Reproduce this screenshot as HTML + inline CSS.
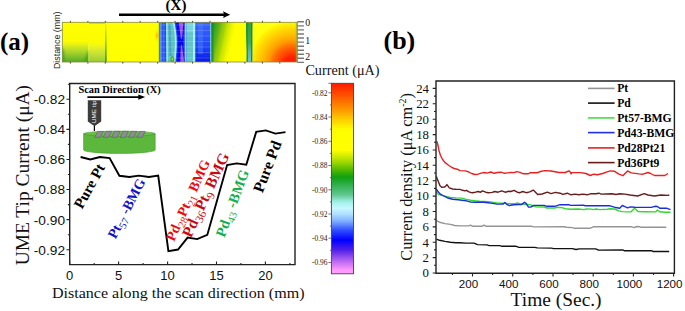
<!DOCTYPE html>
<html><head><meta charset="utf-8"><style>
html,body{margin:0;padding:0;background:#fff;width:685px;height:311px;overflow:hidden}
svg{display:block}
</style></head><body>
<svg xmlns="http://www.w3.org/2000/svg" width="685" height="311" viewBox="0 0 685 311">
<rect width="685" height="311" fill="#fff"/>
<defs>
<linearGradient id="gbot" x1="0" y1="0" x2="0" y2="1">
 <stop offset="0" stop-color="#ffff00"/><stop offset="0.48" stop-color="#fcfc00"/><stop offset="0.56" stop-color="#e4f014"/>
 <stop offset="0.7" stop-color="#b8dc28"/><stop offset="0.85" stop-color="#88c42c"/><stop offset="1" stop-color="#58ac20"/></linearGradient>
<linearGradient id="gbot2" x1="0" y1="0" x2="0" y2="1">
 <stop offset="0" stop-color="#ffff00"/><stop offset="0.52" stop-color="#fcfc00"/><stop offset="0.62" stop-color="#e8f420"/>
 <stop offset="0.8" stop-color="#c4e038"/><stop offset="1" stop-color="#98cc30"/></linearGradient>
<filter id="blur1" x="-50%" y="-50%" width="200%" height="200%"><feGaussianBlur stdDeviation="1.3"/></filter>
<filter id="blur2" x="-50%" y="-50%" width="200%" height="200%"><feGaussianBlur stdDeviation="0.6"/></filter>
<clipPath id="stripclip"><rect x="62.3" y="22.3" width="235" height="39.7"/></clipPath>
<linearGradient id="gline" x1="0" y1="0" x2="0" y2="1">
 <stop offset="0" stop-color="#48ac30" stop-opacity="0.15"/><stop offset="0.4" stop-color="#48ac30" stop-opacity="0.6"/><stop offset="1" stop-color="#3a9c28" stop-opacity="0.95"/></linearGradient>
<linearGradient id="gedgeL" x1="0" y1="0" x2="1" y2="0">
 <stop offset="0" stop-color="#2a9418" stop-opacity="0.8"/><stop offset="1" stop-color="#2a9418" stop-opacity="0"/></linearGradient>
<linearGradient id="gedgeR" x1="0" y1="0" x2="1" y2="0">
 <stop offset="0" stop-color="#3a9c20" stop-opacity="0"/><stop offset="1" stop-color="#3a9c20" stop-opacity="0.7"/></linearGradient>
<linearGradient id="gfadeV" x1="0" y1="0" x2="0" y2="1">
 <stop offset="0" stop-color="#fff" stop-opacity="0"/><stop offset="1" stop-color="#fff" stop-opacity="1"/></linearGradient>
<linearGradient id="ggy" gradientUnits="userSpaceOnUse" x1="211.5" y1="22" x2="240" y2="28.4">
 <stop offset="0" stop-color="#108c20"/><stop offset="0.13" stop-color="#30a020"/><stop offset="0.3" stop-color="#60b418"/>
 <stop offset="0.4" stop-color="#90c810"/><stop offset="0.47" stop-color="#a0d000"/><stop offset="0.57" stop-color="#c8e400"/>
 <stop offset="0.64" stop-color="#d8ec00"/><stop offset="0.74" stop-color="#f0f800"/><stop offset="0.85" stop-color="#ffff00"/><stop offset="1" stop-color="#ffff00"/></linearGradient>
<linearGradient id="gedge" x1="0" y1="0" x2="1" y2="0">
 <stop offset="0" stop-color="#108c20"/><stop offset="1" stop-color="#108c20" stop-opacity="0"/></linearGradient>
<linearGradient id="ggyv" x1="0" y1="0" x2="0" y2="1">
 <stop offset="0" stop-color="#109020" stop-opacity="0.55"/><stop offset="0.45" stop-color="#109020" stop-opacity="0.1"/><stop offset="1" stop-color="#109020" stop-opacity="0"/></linearGradient>
<radialGradient id="gred" gradientUnits="userSpaceOnUse" cx="292" cy="65" r="44" fx="292" fy="65">
 <stop offset="0" stop-color="#ff1800"/><stop offset="0.18" stop-color="#ff2000"/><stop offset="0.28" stop-color="#ff4000"/>
 <stop offset="0.45" stop-color="#ff7400"/><stop offset="0.52" stop-color="#ff9400"/><stop offset="0.63" stop-color="#ffb000"/>
 <stop offset="0.72" stop-color="#ffc400"/><stop offset="0.82" stop-color="#ffd800"/><stop offset="0.92" stop-color="#ffee00"/><stop offset="1" stop-color="#ffff10"/></radialGradient>
<radialGradient id="gor" cx="0.5" cy="0.5" r="0.5">
 <stop offset="0" stop-color="#ffa020"/><stop offset="1" stop-color="#ffff00" stop-opacity="0"/></radialGradient>
<radialGradient id="ggrn" cx="0.5" cy="0.6" r="0.5">
 <stop offset="0" stop-color="#c8e830"/><stop offset="0.5" stop-color="#40a020"/><stop offset="1" stop-color="#40a060" stop-opacity="0"/></radialGradient>
<linearGradient id="gblue2" x1="0" y1="0" x2="0" y2="1">
 <stop offset="0" stop-color="#3a64ff"/><stop offset="0.6" stop-color="#2048f8"/><stop offset="1" stop-color="#0a18e8"/></linearGradient>
<linearGradient id="gband" x1="0" y1="0" x2="0" y2="1">
 <stop offset="0" stop-color="#30a040"/><stop offset="0.5" stop-color="#40a860"/><stop offset="0.75" stop-color="#60b8b0"/><stop offset="1" stop-color="#70c0d8"/></linearGradient>
</defs>
<rect x="62.3" y="22.3" width="235.0" height="39.7" fill="#ffff00"/>
<rect x="62.3" y="22.3" width="26.200000000000003" height="39.7" fill="url(#gbot)"/>
<rect x="88.5" y="22.3" width="17.0" height="39.7" fill="url(#gbot2)"/>
<g clip-path="url(#stripclip)"><path d="M60.3,64.0 L60.3,46 L63.8,50 L64.8,64.0 Z" fill="#3a9a20" opacity="0.75" filter="url(#blur1)"/>
<path d="M88.5,64.0 L88.5,50 L86.5,54 L83.5,64.0 Z" fill="#3a9c20" opacity="0.7" filter="url(#blur1)"/></g>
<rect x="88.5" y="44.3" width="1" height="17.700000000000003" fill="#f4fa80" opacity="0.6"/>
<polygon points="105.3,22.3 106.3,22.3 106.8,62.0 105,62.0" fill="url(#gline)" filter="url(#blur2)"/>
<rect x="89" y="22.3" width="16" height="1.2" fill="#7090ff" opacity="0.8"/>
<ellipse cx="157" cy="35.5" rx="3" ry="8" fill="url(#gor)"/>
<rect x="158.8" y="22.3" width="1.6" height="39.7" fill="#40a030"/>
<rect x="160.3" y="22.3" width="51.19999999999999" height="39.7" fill="#2246f2"/>
<rect x="160.3" y="22.3" width="1.3" height="39.7" fill="#60a0ff"/>
<rect x="162.5" y="22.3" width="2.2" height="39.7" fill="#4a7cff" opacity="0.6"/>
<path d="M166,22.3 L173.5,22.3 C176.5,36 176.5,46 174.5,62.0 L166.5,62.0 Z" fill="#5cc4bc"/>
<path d="M166,22.3 L167.6,22.3 L168,62.0 L166.4,62.0 Z" fill="#8ce2f2"/>
<path d="M172.6,22.3 L174.4,22.3 C177.4,36 177.4,46 175.4,62.0 L173.6,62.0 C175.6,46 175.6,36 172.6,22.3 Z" fill="#a0ecff"/>
<path d="M168.5,24.3 L170.5,24.3 L171.5,56.0 L169.5,56.0 Z" fill="#3a70e8" opacity="0.45"/>
<ellipse cx="172.4" cy="58.5" rx="2.6" ry="4" fill="url(#ggrn)"/>
<path d="M175.6,22.3 L184.6,22.3 C183,34 183,46 184.8,62.0 L176.6,62.0 C178.4,46 178.4,34 175.6,22.3 Z" fill="#0a0af0"/>
<path d="M178.8,22.3 L183.4,22.3 C183,30 182.4,35 181.8,39 L181,39 C180.4,35 179.6,30 178.8,22.3 Z" fill="#a452f2"/>
<path d="M181,45 L181.8,45 C182.6,50 183.6,56 184,62.0 L180.4,62.0 C180.6,56 180.6,50 181,45 Z" fill="#a452f2"/>
<rect x="184.8" y="22.3" width="1.7" height="39.7" fill="#80d0ff"/>
<rect x="186.5" y="22.3" width="6.5" height="39.7" fill="#62c6c8"/>
<rect x="186.5" y="22.3" width="6.5" height="10" fill="#80dce8" opacity="0.7"/>
<rect x="193" y="22.3" width="2.5" height="39.7" fill="#a4eef8"/>
<rect x="195.5" y="22.3" width="15" height="39.7" fill="url(#gblue2)"/>
<rect x="198" y="22.3" width="5" height="31.700000000000003" fill="#4a80ff" opacity="0.45"/>
<rect x="210.3" y="22.3" width="1.3" height="39.7" fill="#98dcf4"/>
<path d="M160.3 25H211.5M160.3 30.5H211.5M160.3 36H211.5M160.3 41.5H211.5M160.3 47H211.5M160.3 52.5H211.5M160.3 58H211.5" stroke="#fff" stroke-width="1" opacity="0.16"/>
<rect x="211.5" y="22.3" width="34.80000000000001" height="39.7" fill="url(#ggy)"/>
<rect x="211.5" y="22.3" width="3" height="39.7" fill="url(#gedge)"/>
<path d="M246.3,22.3 L252.7,22.3 C252,35 253,48 252.4,62.0 L246.6,62.0 C247.2,48 245.8,35 246.3,22.3 Z" fill="url(#gband)"/>
<path d="M246.3,22.3 L247.6,22.3 C247,35 248,48 247.8,62.0 L246.6,62.0 C247.2,48 245.8,35 246.3,22.3 Z" fill="#108a2c"/>
<path d="M251.4,22.3 L252.7,22.3 C252,35 253,48 252.4,62.0 L251,62.0 C251.6,48 250.8,35 251.4,22.3 Z" fill="#108a2c"/>
<rect x="252.6" y="22.3" width="44.70000000000002" height="39.7" fill="url(#gred)"/>
<rect x="295.8" y="22.3" width="1.5" height="39.7" fill="#90b040" opacity="0.7"/>
<rect x="62.3" y="22.3" width="235.0" height="39.7" fill="none" stroke="#8a8a40" stroke-width="0.8"/>
<path d="M70.4 20.900000000000002v1.4M70.4 62.0v1.6M87.9 20.900000000000002v1.4M87.9 62.0v1.6M105.3 20.900000000000002v1.4M105.3 62.0v1.6M122.8 20.900000000000002v1.4M122.8 62.0v1.6M140.2 20.900000000000002v1.4M140.2 62.0v1.6M157.7 20.900000000000002v1.4M157.7 62.0v1.6M175.1 20.900000000000002v1.4M175.1 62.0v1.6M192.6 20.900000000000002v1.4M192.6 62.0v1.6M210.0 20.900000000000002v1.4M210.0 62.0v1.6M227.4 20.900000000000002v1.4M227.4 62.0v1.6M244.9 20.900000000000002v1.4M244.9 62.0v1.6M262.4 20.900000000000002v1.4M262.4 62.0v1.6M279.8 20.900000000000002v1.4M279.8 62.0v1.6" stroke="#333" stroke-width="0.9"/>
<path d="M297.3 21.8h6.7M297.3 25.9h6.7M297.3 29.9h6.7M297.3 34.0h6.7M297.3 38.0h6.7M297.3 42.1h6.7M297.3 46.2h6.7M297.3 50.2h6.7M297.3 54.3h6.7M297.3 58.3h6.7M297.3 62.4h6.7" stroke="#7a7a7a" stroke-width="1.4"/>
<text x="305.2" y="25.8" font-family='"Liberation Serif", serif' font-size="9.8" fill="#111">0</text>
<text x="305.2" y="43.7" font-family='"Liberation Serif", serif' font-size="9.8" fill="#111">1</text>
<text x="305.2" y="59.5" font-family='"Liberation Serif", serif' font-size="9.8" fill="#111">2</text>
<text transform="translate(59.5,40.3) rotate(-90) scale(1.02,1)" text-anchor="middle" font-family='"Liberation Sans", sans-serif' font-size="8.7" fill="#222">Distance (mm)</text>
<path d="M119 14.65H225" stroke="#000" stroke-width="2.5"/>
<polygon points="223,11.3 230.2,14.65 223,18 224.2,14.65" fill="#000"/>
<text x="176" y="10" text-anchor="middle" font-family='"Liberation Serif", serif' font-weight="bold" font-size="15">(X)</text>
<defs><linearGradient id="cbar" x1="0" y1="0" x2="0" y2="1"><stop offset="0.000" stop-color="#ff1a00"/><stop offset="0.061" stop-color="#ff5000"/><stop offset="0.130" stop-color="#ff9000"/><stop offset="0.193" stop-color="#ffd000"/><stop offset="0.245" stop-color="#ffff00"/><stop offset="0.350" stop-color="#ffff00"/><stop offset="0.403" stop-color="#b0e000"/><stop offset="0.455" stop-color="#50b800"/><stop offset="0.492" stop-color="#10a010"/><stop offset="0.534" stop-color="#30b050"/><stop offset="0.586" stop-color="#60c890"/><stop offset="0.623" stop-color="#a0f0e8"/><stop offset="0.655" stop-color="#c8f8ff"/><stop offset="0.686" stop-color="#b0e0ff"/><stop offset="0.723" stop-color="#80b0ff"/><stop offset="0.770" stop-color="#3050ff"/><stop offset="0.823" stop-color="#0000ff"/><stop offset="0.875" stop-color="#5020e8"/><stop offset="0.928" stop-color="#b060f0"/><stop offset="0.980" stop-color="#ff99ff"/><stop offset="1.000" stop-color="#ffa0ff"/></linearGradient></defs>
<rect x="331.4" y="83.3" width="22.100000000000023" height="190.5" fill="url(#cbar)" stroke="#444" stroke-width="0.9"/>
<text transform="translate(327.4,95.6) scale(0.86,1)" text-anchor="end" font-family='"Liberation Serif", serif' font-size="8.6" fill="#222">-0.82</text>
<text transform="translate(327.4,119.8) scale(0.86,1)" text-anchor="end" font-family='"Liberation Serif", serif' font-size="8.6" fill="#222">-0.84</text>
<text transform="translate(327.4,144.1) scale(0.86,1)" text-anchor="end" font-family='"Liberation Serif", serif' font-size="8.6" fill="#222">-0.86</text>
<text transform="translate(327.4,168.3) scale(0.86,1)" text-anchor="end" font-family='"Liberation Serif", serif' font-size="8.6" fill="#222">-0.88</text>
<text transform="translate(327.4,192.6) scale(0.86,1)" text-anchor="end" font-family='"Liberation Serif", serif' font-size="8.6" fill="#222">-0.90</text>
<text transform="translate(327.4,216.8) scale(0.86,1)" text-anchor="end" font-family='"Liberation Serif", serif' font-size="8.6" fill="#222">-0.92</text>
<text transform="translate(327.4,241.0) scale(0.86,1)" text-anchor="end" font-family='"Liberation Serif", serif' font-size="8.6" fill="#222">-0.94</text>
<text transform="translate(327.4,265.3) scale(0.86,1)" text-anchor="end" font-family='"Liberation Serif", serif' font-size="8.6" fill="#222">-0.96</text>
<path d="M328.4 92.8h3M328.4 117.0h3M328.4 141.3h3M328.4 165.5h3M328.4 189.8h3M328.4 214.0h3M328.4 238.2h3M328.4 262.5h3M329.9 104.9h1.5M329.9 129.2h1.5M329.9 153.4h1.5M329.9 177.6h1.5M329.9 201.9h1.5M329.9 226.1h1.5M329.9 250.4h1.5M328.4 83.3h3" stroke="#555" stroke-width="0.8"/>
<text x="305.4" y="75.3" font-family='"Liberation Serif", serif' font-size="14.2" fill="#111">Current (μA)</text>
<text x="78.4" y="92.8" font-family='"Liberation Serif", serif' font-weight="bold" font-size="10.4" fill="#000">Scan Direction (X)</text>
<path d="M87.4 97.1H139.5" stroke="#000" stroke-width="1.7"/>
<polygon points="138.3,94.5 145.2,97.1 138.3,99.7" fill="#000"/>
<path d="M83.6 133.8 V150 A35.8 3.4 0 0 0 155.2 150 V133.8 Z" fill="#5cb83c" stroke="#4a9a2e" stroke-width="0.6"/>
<ellipse cx="119.4" cy="133.8" rx="35.8" ry="2.7" fill="#66bf46" stroke="#4a9a2e" stroke-width="0.6"/>
<polygon points="94.8,137.3 100.3,137.3 103.2,131.4 97.7,131.4" fill="#8c8c94" stroke="#555" stroke-width="0.5"/>
<polygon points="103.2,137.3 108.7,137.3 111.6,131.4 106.1,131.4" fill="#8c8c94" stroke="#555" stroke-width="0.5"/>
<polygon points="111.6,137.3 117.1,137.3 120.0,131.4 114.5,131.4" fill="#8c8c94" stroke="#555" stroke-width="0.5"/>
<polygon points="120.0,137.3 125.5,137.3 128.4,131.4 122.9,131.4" fill="#8c8c94" stroke="#555" stroke-width="0.5"/>
<polygon points="128.4,137.3 133.9,137.3 136.8,131.4 131.3,131.4" fill="#8c8c94" stroke="#555" stroke-width="0.5"/>
<polygon points="136.8,137.3 142.3,137.3 145.2,131.4 139.7,131.4" fill="#8c8c94" stroke="#555" stroke-width="0.5"/>
<path d="M87.8 100.2H101.2V121.5L94.5 126.2L87.8 121.5Z" fill="#3c3c3c"/>
<path d="M94.4 126V131" stroke="#000" stroke-width="1.2"/>
<text transform="translate(95.7,111.8) rotate(-90) scale(1.12,1)" text-anchor="middle" font-family='"Liberation Sans", sans-serif' font-size="5.7" fill="#fff">UME tip</text>
<polyline points="80.6,157 90.3,159.5 99.9,157 109.6,158.1 119.4,175.8 129.3,177 138.9,175.6 149,177 158.2,175.6 168.4,251.1 178,249.5 187.6,237.6 197.2,239.1 207.3,234.9 227.1,165 236.7,163.4 246.3,164.8 256.2,131.9 265.8,130.4 275.4,133.6 285.5,132.1" fill="none" stroke="#000" stroke-width="1.9" stroke-linejoin="miter"/>
<text transform="translate(82,209.8) scale(1,1.0) rotate(-61)" font-family='"Liberation Serif", serif' font-weight="bold" font-size="15" fill="#000">Pure Pt</text>
<text transform="translate(115.5,239.5) scale(1,1.0) rotate(-62.5)" font-family='"Liberation Serif", serif' font-weight="bold" font-size="14" fill="#1212c4">Pt<tspan font-weight="normal" font-size="10.5" dy="3.5">57</tspan><tspan dy="-3.5"> -BMG</tspan></text>
<text transform="translate(174,242) scale(1,1.0) rotate(-65.5)" font-family='"Liberation Serif", serif' font-weight="bold" font-size="14" fill="#f00808">Pd<tspan font-weight="normal" font-size="10.5" dy="3.5">28</tspan><tspan dy="-3.5">Pt</tspan><tspan font-weight="normal" font-size="10.5" dy="3.5">21</tspan><tspan dy="-3.5"> BMG</tspan></text>
<text transform="translate(191,238.5) scale(1,1.0) rotate(-65)" font-family='"Liberation Serif", serif' font-weight="bold" font-size="15.6" fill="#c80814">Pd<tspan font-weight="normal" font-size="11.5" dy="3.5">36</tspan><tspan dy="-3.5">Pt</tspan><tspan font-weight="normal" font-size="11.5" dy="3.5">9</tspan><tspan dy="-3.5"> BMG</tspan></text>
<text transform="translate(224.5,238) scale(1,1.0) rotate(-69.5)" font-family='"Liberation Serif", serif' font-weight="bold" font-size="14.5" fill="#12b04e">Pd<tspan font-weight="normal" font-size="10.5" dy="3.5">43</tspan><tspan dy="-3.5"> -BMG</tspan></text>
<text transform="translate(262.5,193.5) scale(1,1.0) rotate(-69)" font-family='"Liberation Serif", serif' font-weight="bold" font-size="15.6" fill="#000">Pure Pd</text>
<path d="M69.7 83.5H295.0V264.6H69.7Z" fill="none" stroke="#222" stroke-width="1.4"/>
<path d="M69.7 264.6v-3M94.2 264.6v-1.7M118.6 264.6v-3M143.1 264.6v-1.7M167.6 264.6v-3M192.0 264.6v-1.7M216.5 264.6v-3M240.9 264.6v-1.7M265.4 264.6v-3M289.9 264.6v-1.7M69.7 99.3h-3.2M69.7 114.3h-1.8M69.7 129.4h-3.2M69.7 144.4h-1.8M69.7 159.5h-3.2M69.7 174.5h-1.8M69.7 189.5h-3.2M69.7 204.6h-1.8M69.7 219.6h-3.2M69.7 234.7h-1.8M69.7 249.7h-3.2M69.7 84.3h-1.8" stroke="#222" stroke-width="1.1"/>
<text x="69.7" y="280.4" text-anchor="middle" font-family='"Liberation Sans", sans-serif' font-size="13" fill="#111">0</text>
<text x="118.6" y="280.4" text-anchor="middle" font-family='"Liberation Sans", sans-serif' font-size="13" fill="#111">5</text>
<text x="167.6" y="280.4" text-anchor="middle" font-family='"Liberation Sans", sans-serif' font-size="13" fill="#111">10</text>
<text x="216.5" y="280.4" text-anchor="middle" font-family='"Liberation Sans", sans-serif' font-size="13" fill="#111">15</text>
<text x="265.4" y="280.4" text-anchor="middle" font-family='"Liberation Sans", sans-serif' font-size="13" fill="#111">20</text>
<text x="65" y="104.2" text-anchor="end" font-family='"Liberation Sans", sans-serif' font-size="13.7" fill="#111">-0.82</text>
<text x="65" y="134.3" text-anchor="end" font-family='"Liberation Sans", sans-serif' font-size="13.7" fill="#111">-0.84</text>
<text x="65" y="164.4" text-anchor="end" font-family='"Liberation Sans", sans-serif' font-size="13.7" fill="#111">-0.86</text>
<text x="65" y="194.4" text-anchor="end" font-family='"Liberation Sans", sans-serif' font-size="13.7" fill="#111">-0.88</text>
<text x="65" y="224.5" text-anchor="end" font-family='"Liberation Sans", sans-serif' font-size="13.7" fill="#111">-0.90</text>
<text x="65" y="254.6" text-anchor="end" font-family='"Liberation Sans", sans-serif' font-size="13.7" fill="#111">-0.92</text>
<text x="51.9" y="297.9" font-family='"Liberation Serif", serif' font-size="15.6" textLength="252.6" lengthAdjust="spacingAndGlyphs" fill="#111">Distance along the scan direction (mm)</text>
<text transform="translate(28.8,175.1) rotate(-90) scale(1.08,1)" text-anchor="middle" font-family='"Liberation Serif", serif' font-size="18" fill="#111">UME Tip Current (μA)</text>
<text x="0" y="50" font-family='"Liberation Serif", serif' font-weight="bold" font-size="25" fill="#000">(a)</text>
<polyline points="436.4,220.6 439.5,222.2 445,223.6 450.4,224.4 454.8,225.5 460,225.9 468.8,225.9 470.5,225.2 472.3,226.2 482.2,226.2 483.9,225.2 485.7,226.2 531.2,226.2 533.6,226.9 564.2,226.8 566.5,227.3 572.4,227.6 574.7,228.3 589.9,228.3 593.4,226.8 631.9,226.8 634.2,227.6 636.5,226.5 640,226.8 641.2,227.3 666.3,227.3" fill="none" stroke="#949494" stroke-width="1.4" stroke-linejoin="round"/>
<polyline points="436.4,239.2 439.5,240.3 445,241.4 450.4,242.2 455.9,242.7 460,242.8 465.8,243.1 474,243.1 477.5,244.6 486.9,244.9 489.2,245.6 499.7,245.6 502,246.3 516.1,246.3 518.4,247.2 534.7,247.4 537.3,247.9 551.4,248.1 553.7,248.6 572.4,248.6 575.9,249.5 579.4,248.9 595.7,248.9 598.6,250.1 622.5,249.9 624.3,250.7 651.7,250.7 652.9,251.5 669.2,251.5" fill="none" stroke="#111" stroke-width="1.4" stroke-linejoin="round"/>
<polyline points="436.2,191.7 437.8,193.9 440.6,195 445,196.1 450.4,197.4 455.9,197.9 462,198.1 466.4,199.4 470.8,200.3 475.1,200.8 479.5,201.2 488.3,201.6 497,202.9 502.3,203.2 505.8,203.4 511,203.8 515.4,203.8 517.2,202.9 518.9,203.6 520.6,204.9 523.3,204.1 526.8,204.5 531.1,204.9 535.5,206.7 544.3,207 546.9,208 554.8,208 556.5,207.3 561.8,207.6 565.3,208.7 570.6,209.3 578.5,209 583.8,209.6 586.4,209 591.6,209.1 593.4,209.6 596,209 599.5,209.6 607.4,209.3 610,208.7 614.4,209 618.8,210.9 622.3,211.6 627.6,211.9 631.1,211.8 634.6,208.3 638.1,211.6 645.1,211.8 655.7,211.9 657.4,210 660,211.8 664.4,212.2 670.5,212.2" fill="none" stroke="#30d830" stroke-width="1.4" stroke-linejoin="round"/>
<polyline points="436.2,189 437.8,191.2 440,193.9 442.8,195.5 447.1,197.7 452.6,199.2 458.1,199.8 462,200.2 466.4,200.8 470.8,202.1 475.1,202.3 483.9,202.3 488.3,202.7 492.7,203.4 497,204.1 503.2,204.1 504.9,202.5 506.7,204.3 509.3,205.6 511.9,205 514.6,204.7 518.1,204.5 521.5,204.3 524.6,202.3 526.3,203.6 528.5,207.1 530.7,207.1 533.8,205.4 544.3,205.4 546.9,206.3 554.8,206.3 560,204.7 568.8,204.7 570.6,205.4 583.8,205.2 585.1,205.8 610,205.8 614.4,207.2 619.7,208.3 622.3,205.5 624.9,206.7 627.6,207.8 630.3,206.9 634.6,207.2 651.3,207.4 654.8,206.3 657.4,206.5 660,208.3 667,208.3 670.5,209.6" fill="none" stroke="#1a2ee0" stroke-width="1.4" stroke-linejoin="round"/>
<polyline points="436.4,176.4 437.3,179.1 438.9,183 440,185.7 441.7,187.3 444.4,187.1 446,185.7 446.9,184.6 447.7,185.7 449.3,187.9 452.6,189 455.9,189.3 460,189.4 462.6,190.3 465.1,190.9 466.4,190.3 469,191.9 472.2,192.8 475.5,192.2 478,191.5 480.6,192.2 482.5,190.9 485.7,192.2 488.3,192.8 492.2,192.4 494.8,191.5 498,192.2 501.8,190.9 505.1,192.2 508.9,191.2 510.9,191.5 514.1,190.3 517.3,192.2 520,192.7 522.7,191.5 526.2,192.7 529.7,191.9 533.3,190.1 537.7,194.5 542.1,194 547.4,192.2 551,193.6 555.4,192.4 557.6,192.8 560.2,193.2 562.7,194.4 567.2,193.2 571.1,194.8 575,194.1 578.8,194.8 582.7,194.1 587.2,194.8 591,193.7 596.2,193.7 598.8,193.2 601.3,194.1 612,193.7 615.9,194.5 619.7,193.7 624.9,194.1 630,195 637.7,196 644.2,193.7 648,195 654.5,196 660.9,195 668,195.4 669.3,194.8" fill="none" stroke="#6a1c1c" stroke-width="1.4" stroke-linejoin="round"/>
<polyline points="436.8,141.2 437.9,145 438.9,150.2 440.4,155.3 442.4,159.2 444.9,162.4 448.2,165 452,167.5 455.2,168.8 457.2,169.2 460,170.6 465.1,170.9 468.4,171.8 471.6,173.5 474.8,174.5 478,174.2 481.2,173.1 484.5,172.5 487,173.1 490.9,172 494.1,173.3 497.3,172.5 501.2,172.2 504.4,173.3 507.6,172.9 510.9,172.5 514.1,172.6 516.6,171.6 520,172.4 523.5,173.8 528,173.8 530.6,172.7 537.7,172.7 540.4,171.5 544.8,170.6 551,171 555,171.8 558.9,172.5 565.3,172.5 568.9,170.9 570.5,172.2 571.1,173.9 571.7,172.6 580.7,172.6 585.9,173.5 590.4,175.5 593.6,174.2 597.5,174.8 602.6,173.5 607.8,171.6 610.4,170.9 614.6,171.3 618.4,173.9 622.9,175.7 625.5,172.9 627.5,170.9 631.3,172.9 639,173.9 642.9,174.2 648,172.5 650.6,173.5 654.5,175.5 664.8,175.5 668,173.5" fill="none" stroke="#e82020" stroke-width="1.4" stroke-linejoin="round"/>
<path d="M588 88.4H614.6" stroke="#949494" stroke-width="1.6"/>
<text x="617.2" y="92.3" font-family='"Liberation Serif", serif' font-weight="bold" font-size="11.7" fill="#000">Pt</text>
<path d="M588 103.1H614.6" stroke="#111" stroke-width="1.6"/>
<text x="617.2" y="107.0" font-family='"Liberation Serif", serif' font-weight="bold" font-size="11.7" fill="#000">Pd</text>
<path d="M588 117.9H614.6" stroke="#40e040" stroke-width="1.6"/>
<text x="617.2" y="121.8" font-family='"Liberation Serif", serif' font-weight="bold" font-size="11.7" fill="#000">Pt57-BMG</text>
<path d="M588 132.6H614.6" stroke="#2030e0" stroke-width="1.6"/>
<text x="617.2" y="136.5" font-family='"Liberation Serif", serif' font-weight="bold" font-size="11.7" fill="#000">Pd43-BMG</text>
<path d="M588 147.9H614.6" stroke="#e82020" stroke-width="1.6"/>
<text x="617.2" y="151.8" font-family='"Liberation Serif", serif' font-weight="bold" font-size="11.7" fill="#000">Pd28Pt21</text>
<path d="M588 162.6H614.6" stroke="#6a1c1c" stroke-width="1.6"/>
<text x="617.2" y="166.5" font-family='"Liberation Serif", serif' font-weight="bold" font-size="11.7" fill="#000">Pd36Pt9</text>
<path d="M436.0 81.0H674.4V273.2H436.0Z" fill="none" stroke="#222" stroke-width="1.4"/>
<path d="M436.0 273.0h-3.3M436.0 265.3h-2M436.0 257.6h-3.3M436.0 249.9h-2M436.0 242.2h-3.3M436.0 234.6h-2M436.0 226.9h-3.3M436.0 219.2h-2M436.0 211.5h-3.3M436.0 203.8h-2M436.0 196.1h-3.3M436.0 188.4h-2M436.0 180.7h-3.3M436.0 173.0h-2M436.0 165.3h-3.3M436.0 157.6h-2M436.0 150.0h-3.3M436.0 142.3h-2M436.0 134.6h-3.3M436.0 126.9h-2M436.0 119.2h-3.3M436.0 111.5h-2M436.0 103.8h-3.3M436.0 96.1h-2M436.0 88.4h-3.3M452.4 273.2v1.8M472.5 273.2v3.2M492.6 273.2v1.8M512.7 273.2v3.2M532.9 273.2v1.8M553.0 273.2v3.2M573.1 273.2v1.8M593.2 273.2v3.2M613.3 273.2v1.8M633.4 273.2v3.2M653.5 273.2v1.8M673.6 273.2v3.2" stroke="#222" stroke-width="1.1"/>
<text x="429" y="277.3" text-anchor="end" font-family='"Liberation Serif", serif' font-size="12.8" fill="#111">0</text>
<text x="429" y="261.9" text-anchor="end" font-family='"Liberation Serif", serif' font-size="12.8" fill="#111">2</text>
<text x="429" y="246.5" text-anchor="end" font-family='"Liberation Serif", serif' font-size="12.8" fill="#111">4</text>
<text x="429" y="231.2" text-anchor="end" font-family='"Liberation Serif", serif' font-size="12.8" fill="#111">6</text>
<text x="429" y="215.8" text-anchor="end" font-family='"Liberation Serif", serif' font-size="12.8" fill="#111">8</text>
<text x="429" y="200.4" text-anchor="end" font-family='"Liberation Serif", serif' font-size="12.8" fill="#111">10</text>
<text x="429" y="185.0" text-anchor="end" font-family='"Liberation Serif", serif' font-size="12.8" fill="#111">12</text>
<text x="429" y="169.6" text-anchor="end" font-family='"Liberation Serif", serif' font-size="12.8" fill="#111">14</text>
<text x="429" y="154.3" text-anchor="end" font-family='"Liberation Serif", serif' font-size="12.8" fill="#111">16</text>
<text x="429" y="138.9" text-anchor="end" font-family='"Liberation Serif", serif' font-size="12.8" fill="#111">18</text>
<text x="429" y="123.5" text-anchor="end" font-family='"Liberation Serif", serif' font-size="12.8" fill="#111">20</text>
<text x="429" y="108.1" text-anchor="end" font-family='"Liberation Serif", serif' font-size="12.8" fill="#111">22</text>
<text x="429" y="92.7" text-anchor="end" font-family='"Liberation Serif", serif' font-size="12.8" fill="#111">24</text>
<text x="468.5" y="287.5" text-anchor="middle" font-family='"Liberation Sans", sans-serif' font-size="11.6" fill="#111">200</text>
<text x="508.7" y="287.5" text-anchor="middle" font-family='"Liberation Sans", sans-serif' font-size="11.6" fill="#111">400</text>
<text x="549.0" y="287.5" text-anchor="middle" font-family='"Liberation Sans", sans-serif' font-size="11.6" fill="#111">600</text>
<text x="589.2" y="287.5" text-anchor="middle" font-family='"Liberation Sans", sans-serif' font-size="11.6" fill="#111">800</text>
<text x="629.4" y="287.5" text-anchor="middle" font-family='"Liberation Sans", sans-serif' font-size="11.6" fill="#111">1000</text>
<text x="669.6" y="287.5" text-anchor="middle" font-family='"Liberation Sans", sans-serif' font-size="11.6" fill="#111">1200</text>
<text x="510.6" y="305.9" font-family='"Liberation Serif", serif' font-size="19" textLength="91" lengthAdjust="spacingAndGlyphs" fill="#111">Time (Sec.)</text>
<text transform="translate(411.5,176.8) rotate(-90)" text-anchor="middle" font-family='"Liberation Serif", serif' font-size="16.3" fill="#111">Current density (μA cm<tspan font-size="10" dy="-6">-2</tspan><tspan dy="6">)</tspan></text>
<text x="383.5" y="49" font-family='"Liberation Serif", serif' font-weight="bold" font-size="26" fill="#000">(b)</text>
</svg>
</body></html>
